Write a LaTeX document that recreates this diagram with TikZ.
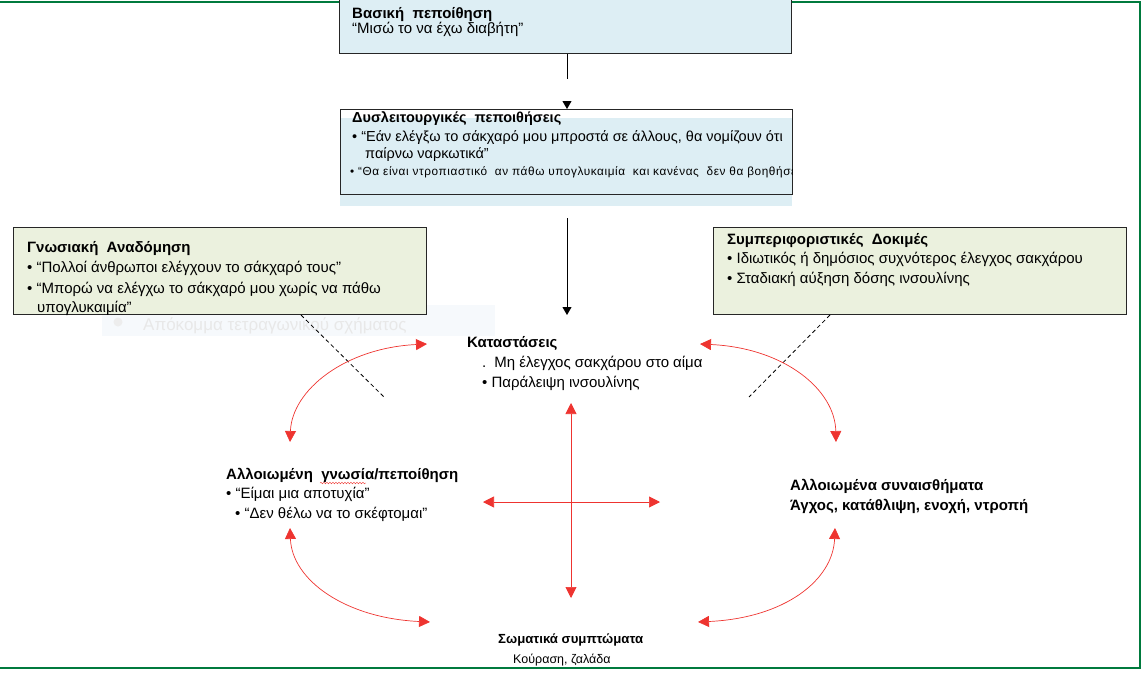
\documentclass[tikz,border=0pt]{standalone}
\usepackage{fontspec}
\setmainfont{Liberation Sans}
\usepackage{xcolor}
\usetikzlibrary{arrows.meta, decorations.pathmorphing}
\definecolor{bleuclair}{RGB}{221,238,244}
\definecolor{vertclair}{RGB}{235,241,222}
\definecolor{rouge}{RGB}{238,52,48}
\definecolor{vertcadre}{RGB}{0,122,61}
\definecolor{fantome}{RGB}{246,249,252}

\begin{document}
\begin{tikzpicture}[x=1pt, y=-1pt]
		\tikzstyle{boite}=[draw=black!85, line width=1pt, inner sep=0pt]
		\tikzstyle{texte}=[anchor=base west, align=left, inner sep=0pt, font=\fontsize{15}{20}\selectfont]
		\tikzstyle{fleche}=[-{Triangle[length=8pt,width=9pt]}, line width=0.8pt]
		\tikzstyle{courbe}=[{Triangle[length=11pt,width=11pt]}-{Triangle[length=11pt,width=11pt]}, color=rouge, line width=0.7pt]
		\tikzstyle{tirets}=[dash pattern=on 4pt off 3pt, line width=0.8pt]
		\useasboundingbox (0,0) rectangle (1142,672);
		\draw[vertcadre, line width=1.6pt] (0,2) -- (1140,2) -- (1140,668) -- (0,668);

		% boites du haut
		\node[boite, fill=bleuclair, minimum width=452, minimum height=64, anchor=south west] (basique) at (339,54) {};
		\node[texte] (basiqueT) at (352,33) {\textbf{Βασική~~πεποίθηση}\\[-5pt]“Μισώ το να έχω διαβήτη”};
		\fill[bleuclair] (340,118) rectangle (792,206);
		\node[boite, minimum width=452, minimum height=85, anchor=north west] (dysf) at (340,109) {};
		\node[texte, font=\fontsize{14.5}{20}\selectfont] (dysfT) at (352,158) {\textbf{Δυσλειτουργικές~~πεποιθήσεις}\\[-1pt]• “Εάν ελέγξω το σάκχαρό μου μπροστά σε άλλους, θα νομίζουν ότι\\[-3.7pt]\hspace*{13pt}παίρνω ναρκωτικά”};
		\begin{scope}
			\clip (340,160) rectangle (792,194);
			\node[texte, font=\fontsize{11.8}{14}\selectfont\addfontfeature{LetterSpace=5}] (dysfP) at (350,175) {• “Θα είναι ντροπιαστικό~~αν πάθω υπογλυκαιμία~~και κανένας~~δεν θα βοηθήσει};
		\end{scope}

		% apokomma
		\fill[fantome] (102,305) rectangle (495,336);
		\fill[black!7] (118,322) circle (4.5);
		\node[texte, text=black!9, font=\fontsize{17}{20}\selectfont] (apokomma) at (143,330) {Απόκομμα τετραγωνικού σχήματος};

		% boites laterales
		\node[boite, fill=vertclair, minimum width=413, minimum height=87, anchor=north west] (cognitif) at (13,227) {};
		\node[texte] (cognitifT) at (27,312) {\textbf{Γνωσιακή~~Αναδόμηση}\\• “Πολλοί άνθρωποι ελέγχουν το σάκχαρό τους”\\[1pt]• “Μπορώ να ελέγχω το σάκχαρό μου χωρίς να πάθω\\[-1pt]\hspace*{10pt}υπογλυκαιμία”};
		\node[boite, fill=vertclair, minimum width=413, minimum height=87, anchor=north west] (comport) at (713,227) {};
		\node[texte] (comportT) at (727,283) {\textbf{Συμπεριφοριστικές~~Δοκιμές}\\[-1pt]• Ιδιωτικός ή δημόσιος συχνότερος έλεγχος σακχάρου\\• Σταδιακή αύξηση~δόσης ινσουλίνης};

		% cycle
		\node[texte] (etats) at (467,387) {\textbf{Καταστάσεις}\\\hspace*{15pt}.\hspace{8pt}Μη έλεγχος σακχάρου στο αίμα\\\hspace*{15pt}• Παράλειψη ινσουλίνης};
		\node[texte] (pensee) at (226,518) {\textbf{Αλλοιωμένη~~γνωσία/πεποίθηση}\\[-1pt]• “Είμαι μια αποτυχία”\\\hspace*{9pt}• “Δεν θέλω να το σκέφτομαι”};
		\node[texte] (emotions) at (790,510) {\textbf{Αλλοιωμένα συναισθήματα}\\\textbf{Άγχος, κατάθλιψη, ενοχή, ντροπή}};
		\node[texte, font=\fontsize{12.5}{20}\selectfont] (corps) at (498,663) {\textbf{\fontsize{13.2}{20}\selectfont Σωματικά συμπτώματα}\\\hspace*{15pt}Κούραση, ζαλάδα};
		\draw[rouge, decorate, decoration={snake, amplitude=0.8pt, segment length=3pt}, line width=0.4pt] (320,483) -- (366,483);

		\coordinate (etatsHaut) at (567,315);
		\coordinate (tiretG) at (385,398);
		\coordinate (tiretD) at (749,397);
		\draw[fleche, dash pattern=on 25pt off 60pt] (basique.south -| 567,0) -- (dysf.north -| 567,0);
		\draw[fleche, shorten <=23pt] (dysf.south -| 567,0) -- (etatsHaut);
		\draw[tirets] (cognitif.south east) ++(-126,0) -- (tiretG);
		\draw[tirets] (comport.south west) ++(117,0) -- (tiretD);

		\coordinate (hautG) at (427,344);
		\coordinate (hautD) at (700,344);
		\coordinate (gaucheH) at (290,442);
		\coordinate (droiteH) at (836,442);
		\coordinate (gaucheB) at (290,528);
		\coordinate (droiteB) at (835,528);
		\coordinate (basG) at (430,622);
		\coordinate (basD) at (698,622);
		\draw[courbe] (hautG) .. controls (345,348) and (292,390) .. (gaucheH);
		\draw[courbe] (hautD) .. controls (785,348) and (835,390) .. (droiteH);
		\draw[courbe] (gaucheB) .. controls (292,580) and (345,618) .. (basG);
		\draw[courbe] (droiteB) .. controls (833,580) and (785,618) .. (basD);
		\coordinate (croixH) at (571,403);
		\coordinate (croixB) at (571,598);
		\coordinate (croixG) at (483,502);
		\coordinate (croixD) at (660,502);
		\draw[courbe] (croixH) -- (croixB);
		\draw[courbe] (croixG) -- (croixD);
	\end{tikzpicture}
\end{document}
